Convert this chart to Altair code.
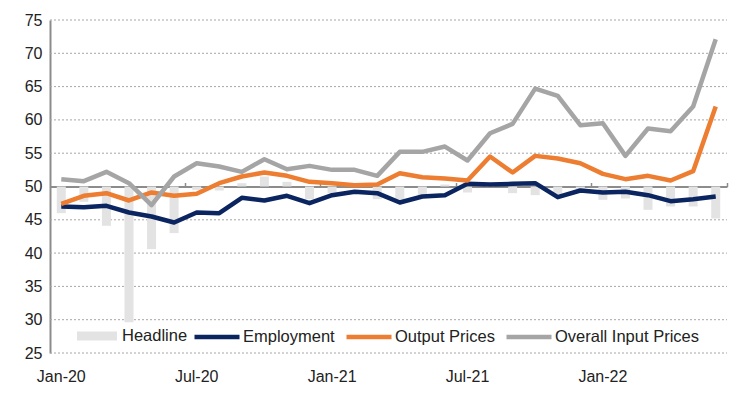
import altair as alt
import pandas as pd

months = ["Jan-20", "Feb-20", "Mar-20", "Apr-20", "May-20", "Jun-20",
          "Jul-20", "Aug-20", "Sep-20", "Oct-20", "Nov-20", "Dec-20",
          "Jan-21", "Feb-21", "Mar-21", "Apr-21", "May-21", "Jun-21",
          "Jul-21", "Aug-21", "Sep-21", "Oct-21", "Nov-21", "Dec-21",
          "Jan-22", "Feb-22", "Mar-22", "Apr-22", "May-22", "Jun-22"]

headline = [46.0, 47.7, 44.1, 29.6, 40.6, 43.0, 49.5, 49.4, 50.5, 51.5,
            50.7, 48.1, 49.0, 50.2, 48.1, 48.0, 48.5, 50.3, 49.1, 50.3,
            49.0, 48.7, 48.7, 49.6, 48.0, 48.2, 46.5, 47.0, 47.0, 45.2]
employment = [47.0, 46.9, 47.1, 46.1, 45.5, 44.6, 46.1, 46.0, 48.3, 47.9,
              48.6, 47.5, 48.7, 49.2, 49.0, 47.6, 48.5, 48.7, 50.4, 50.3,
              50.4, 50.5, 48.4, 49.4, 49.1, 49.2, 48.7, 47.8, 48.1, 48.5]
output_prices = [47.4, 48.6, 49.0, 47.9, 49.1, 48.6, 48.9, 50.5, 51.5, 52.1,
                 51.6, 50.7, 50.5, 50.2, 50.3, 52.0, 51.4, 51.2, 50.9, 54.5,
                 52.1, 54.6, 54.2, 53.5, 51.9, 51.1, 51.6, 50.9, 52.3, 62.0]
input_prices = [51.1, 50.8, 52.2, 50.5, 47.2, 51.5, 53.5, 53.0, 52.2, 54.1,
                52.6, 53.1, 52.5, 52.5, 51.6, 55.2, 55.2, 56.0, 53.9, 58.0,
                59.4, 64.7, 63.6, 59.2, 59.5, 54.6, 58.7, 58.3, 62.0, 72.1]

label_months = ["Jan-20", "Jul-20", "Jan-21", "Jul-21", "Jan-22"]
tick_months = ["Jun-20", "Dec-20", "Jun-21", "Dec-21", "Jun-22"]
y_ticks = [25, 30, 35, 40, 45, 50, 55, 60, 65, 70, 75]
grid_values = [25, 30, 35, 40, 45, 55, 60, 65, 70, 75]

line_names = ["Employment", "Output Prices", "Overall Input Prices"]
line_colors = ["#0b2560", "#ed7d31", "#a5a5a5"]

FONT = "Liberation Sans"

df_bar = pd.DataFrame({"month": months, "value": headline, "series": "Headline"})
df_lines = pd.concat([
    pd.DataFrame({"month": months, "value": vals, "series": name, "order": i})
    for i, (name, vals) in enumerate(zip(line_names, [employment, output_prices, input_prices]))
])
# gridline segments: each level spans from the first to the last month band
df_grid = pd.DataFrame({
    "level": [float(v) for v in grid_values],
    "start": months[0],
    "end": months[-1],
})

x_scale = alt.Scale(domain=months, paddingInner=0, paddingOuter=0)
y_scale = alt.Scale(domain=[25, 75], nice=False, zero=False)


def y_axis():
    return alt.Axis(values=y_ticks, grid=False, domain=True, domainColor="#8c8c8c",
                    domainWidth=2, ticks=False, tickSize=0, labelPadding=8, title=None,
                    labelOverlap=False, labelFont=FONT, labelFontSize=16,
                    labelColor="#222222")


grid = alt.Chart(df_grid).mark_rule(strokeDash=[2, 2], color="#a6a6a6", strokeWidth=1).encode(
    x=alt.X("start:N", sort=months, scale=x_scale, bandPosition=0, axis=None),
    x2=alt.X2("end:N", bandPosition=1),
    y=alt.Y("level:Q", scale=y_scale, axis=y_axis()),
)

bars = alt.Chart(df_bar).mark_bar(size=9).encode(
    x=alt.X("month:N", sort=months, scale=x_scale,
            axis=alt.Axis(orient="bottom", values=label_months, domain=False, ticks=False,
                          tickSize=0, labelPadding=15, labelAngle=0, grid=False, title=None,
                          labelOverlap=False, labelFont=FONT, labelFontSize=16,
                          labelColor="#222222")),
    y=alt.Y("value:Q", scale=y_scale, axis=y_axis()),
    y2=alt.datum(50),
    color=alt.Color("series:N", scale=alt.Scale(domain=["Headline"], range=["#e3e3e3"]),
                    legend=alt.Legend(title=None, orient="none", legendX=27, legendY=296,
                                      symbolType="M-1,-0.22H1V0.22H-1Z", symbolSize=1600,
                                      symbolStrokeWidth=0, labelOffset=5, padding=0,
                                      labelFont=FONT, labelFontSize=16.5, labelColor="#222222")),
)

lines = alt.Chart(df_lines).mark_line(strokeWidth=4.5, strokeJoin="round").encode(
    x=alt.X("month:N", sort=months, scale=x_scale, bandPosition=0.5,
            axis=alt.Axis(orient="top", offset=-166.5, values=tick_months, bandPosition=1,
                          labels=False, domain=True, domainColor="#8c8c8c", domainWidth=2,
                          ticks=True, tickSize=4, tickColor="#8c8c8c", tickWidth=1.5,
                          grid=False, title=None)),
    y=alt.Y("value:Q", scale=y_scale, axis=y_axis()),
    color=alt.Color("series:N", scale=alt.Scale(domain=line_names, range=line_colors),
                    legend=alt.Legend(title=None, orient="none", legendX=142, legendY=292,
                                      direction="horizontal", symbolType="stroke",
                                      symbolSize=2025, symbolStrokeWidth=4.5, labelOffset=1,
                                      columnPadding=2, padding=0,
                                      labelFont=FONT, labelFontSize=16.5, labelColor="#222222")),
    order="order:Q",
)

chart = alt.layer(grid, bars, lines).resolve_scale(color="independent").resolve_legend(
    color="independent"
).properties(
    width=677, height=333,
    padding={"left": 42, "top": 12, "right": 15, "bottom": 35},
    autosize=alt.AutoSizeParams(type="none"),
    background="white",
).configure_view(stroke=None)

chart.save("out.html", embed_options={"renderer": "svg", "actions": False})
